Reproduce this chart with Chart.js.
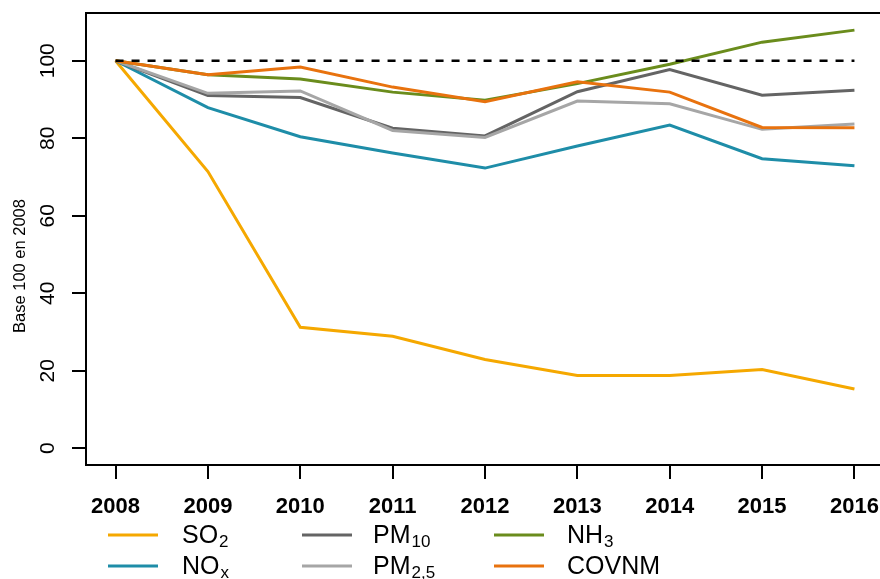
<!DOCTYPE html>
<html>
<head>
<meta charset="utf-8">
<script src="https://cdn.jsdelivr.net/npm/chart.js@4"></script>
<style>
  html, body { margin: 0; padding: 0; overflow: hidden; background: #fff; }
  canvas { display: block; }
</style>
</head>
<body>
<canvas id="chart" width="884" height="579"></canvas>
<script>
const years = [2008, 2009, 2010, 2011, 2012, 2013, 2014, 2015, 2016];
const yTicks = [0, 20, 40, 60, 80, 100];

const so2   = [100, 71.4, 31.2, 28.9, 22.9, 18.8, 18.8, 20.3, 15.3];
const nox   = [100, 87.9, 80.4, 76.2, 72.3, 78.0, 83.4, 74.7, 72.9];
const pm10  = [100, 91.0, 90.5, 82.6, 80.6, 92.0, 97.7, 91.1, 92.4];
const pm25  = [100, 91.6, 92.2, 82.0, 80.2, 89.6, 88.9, 82.3, 83.7];
const nh3   = [100, 96.4, 95.3, 91.9, 89.8, 94.1, 99.1, 104.8, 107.9];
const covnm = [100, 96.4, 98.4, 93.2, 89.4, 94.6, 91.9, 82.8, 82.7];
const refLine = [100, 100];

const font = 'Liberation Sans, Arial, Helvetica, sans-serif';

const series = [
  { name: 'SO', sub: '2', values: so2, color: '#F5A800' },
  { name: 'NO', sub: 'x', values: nox, color: '#1E8DA8' },
  { name: 'PM', sub: '10', values: pm10, color: '#646464' },
  { name: 'PM', sub: '2,5', values: pm25, color: '#A6A6A6' },
  { name: 'NH', sub: '3', values: nh3, color: '#6A8C1C' },
  { name: 'COVNM', sub: '', values: covnm, color: '#E8720E' }
];

function toPoints(vals, xs) {
  return vals.map((v, i) => ({ x: xs[i], y: v }));
}

const datasets = [{
  data: toPoints(refLine, [years[0], years[years.length - 1]]),
  borderColor: '#000',
  borderWidth: 2.5,
  borderDash: [8, 8],
  pointRadius: 0
}];
// draw in reverse so that the first series ends up underneath
[...series].reverse().forEach(s => {
  datasets.push({
    data: toPoints(s.values, years),
    borderColor: s.color,
    borderWidth: 3,
    pointRadius: 0,
    tension: 0
  });
});

const extras = {
  id: 'extras',
  afterDraw(chart) {
    const { ctx, chartArea, scales } = chart;
    ctx.save();
    // box around plot
    ctx.strokeStyle = '#000';
    ctx.lineWidth = 2;
    ctx.strokeRect(chartArea.left, chartArea.top, chartArea.right - chartArea.left, chartArea.bottom - chartArea.top);

    ctx.fillStyle = '#000';

    // x tick labels
    ctx.font = 'bold 22px ' + font;
    ctx.textAlign = 'center';
    ctx.textBaseline = 'alphabetic';
    years.forEach(yr => {
      ctx.fillText(String(yr), scales.x.getPixelForValue(yr), 513);
    });

    // y tick labels, rotated like base R
    ctx.font = '21px ' + font;
    yTicks.forEach(t => {
      const y = scales.y.getPixelForValue(t);
      ctx.save();
      ctx.translate(54, y);
      ctx.rotate(-Math.PI / 2);
      ctx.fillText(String(t), 0, 0);
      ctx.restore();
    });

    // y axis title
    ctx.save();
    ctx.font = '16.5px ' + font;
    ctx.translate(25, 266);
    ctx.rotate(-Math.PI / 2);
    ctx.fillText('Base 100 en 2008', 0, 0);
    ctx.restore();

    // legend
    const cols = [[108, 182], [302, 373], [494, 567]];
    const rows = [535, 566];
    series.forEach((s, i) => {
      const [lx, tx] = cols[Math.floor(i / 2)];
      const ry = rows[i % 2];
      ctx.strokeStyle = s.color;
      ctx.lineWidth = 3;
      ctx.beginPath();
      ctx.moveTo(lx, ry);
      ctx.lineTo(lx + 50, ry);
      ctx.stroke();
      ctx.textAlign = 'left';
      ctx.font = '25px ' + font;
      ctx.fillText(s.name, tx, ry + 8);
      if (s.sub) {
        const w = ctx.measureText(s.name).width;
        ctx.font = '17px ' + font;
        ctx.fillText(s.sub, tx + w + 1, ry + 12);
      }
    });
    ctx.restore();
  }
};

new Chart(document.getElementById('chart'), {
  type: 'line',
  data: { datasets },
  options: {
    responsive: false,
    animation: false,
    devicePixelRatio: 1,
    layout: { padding: { top: 13, right: 0, left: 0, bottom: 0 } },
    plugins: { legend: { display: false }, tooltip: { enabled: false } },
    scales: {
      x: {
        type: 'linear',
        min: 2007.68,
        max: 2016.32,
        afterBuildTicks: axis => { axis.ticks = years.map(v => ({ value: v })); },
        afterFit: axis => { axis.height = 114; },
        grid: { drawOnChartArea: false, drawTicks: true, tickLength: 14, color: '#000', lineWidth: 2 },
        border: { display: true, color: '#000', width: 2 },
        ticks: { display: false }
      },
      y: {
        min: -4.32,
        max: 112.32,
        afterBuildTicks: axis => { axis.ticks = yTicks.map(v => ({ value: v })); },
        afterFit: axis => { axis.width = 86; },
        grid: { drawOnChartArea: false, drawTicks: true, tickLength: 14, color: '#000', lineWidth: 2 },
        border: { display: true, color: '#000', width: 2 },
        ticks: { display: false }
      }
    }
  },
  plugins: [extras]
});
</script>
</body>
</html>
